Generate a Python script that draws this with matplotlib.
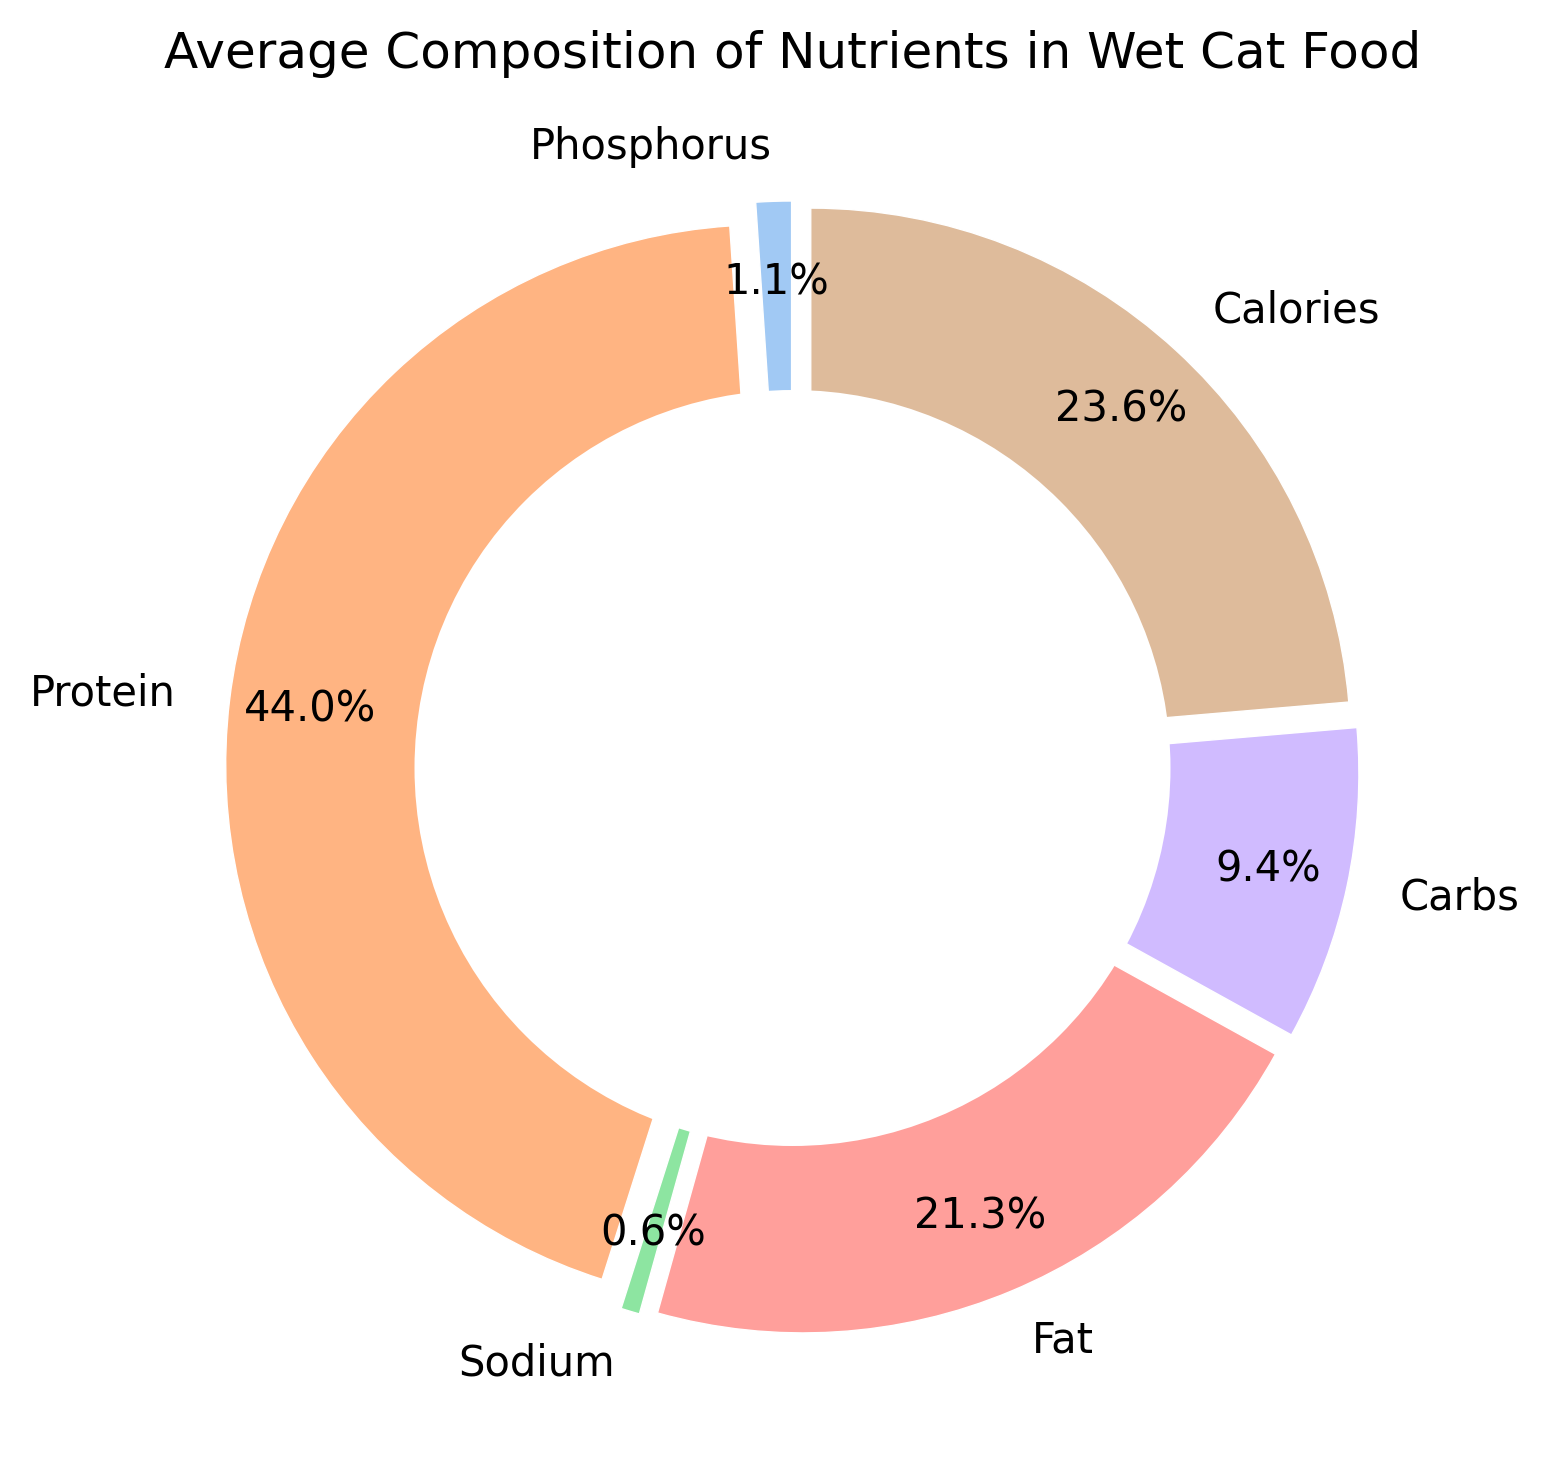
import matplotlib
matplotlib.use("Agg")
import matplotlib.pyplot as plt

# nutrient shares (wedge edges give the second decimal)
nutrients = ["Phosphorus", "Protein", "Sodium", "Fat", "Carbs", "Calories"]
shares = [1.06, 44.04, 0.56, 21.3, 9.4, 23.64]
explode = [0.05] * 6
colors = ["#a1c9f4", "#ffb482", "#8de5a1", "#ff9f9b", "#d0bbff", "#debb9b"]

W, H, DPI = 1549, 1473, 200
fig = plt.figure(figsize=(W / DPI, H / DPI), dpi=DPI)

# axes placed so the ring sits where it does in the reference
cx, cy, span = 792.5, 705, 1350
ax = fig.add_axes([(cx - span / 2) / W, (cy - span / 2) / H, span / W, span / H])

ax.pie(
    shares,
    labels=nutrients,
    colors=colors,
    explode=explode,
    autopct="%1.1f%%",
    startangle=90,
    pctdistance=0.85,
    wedgeprops=dict(edgecolor="white", linewidth=0.5),
    textprops=dict(fontsize=15),
)
# hole is a plain white circle on top, not a wedge width
ax.add_artist(plt.Circle((0, 0), 0.70, fc="white"))
ax.set_title("Average Composition of Nutrients in Wet Cat Food", fontsize=18, pad=9)

fig.savefig("out.png", dpi=DPI)
